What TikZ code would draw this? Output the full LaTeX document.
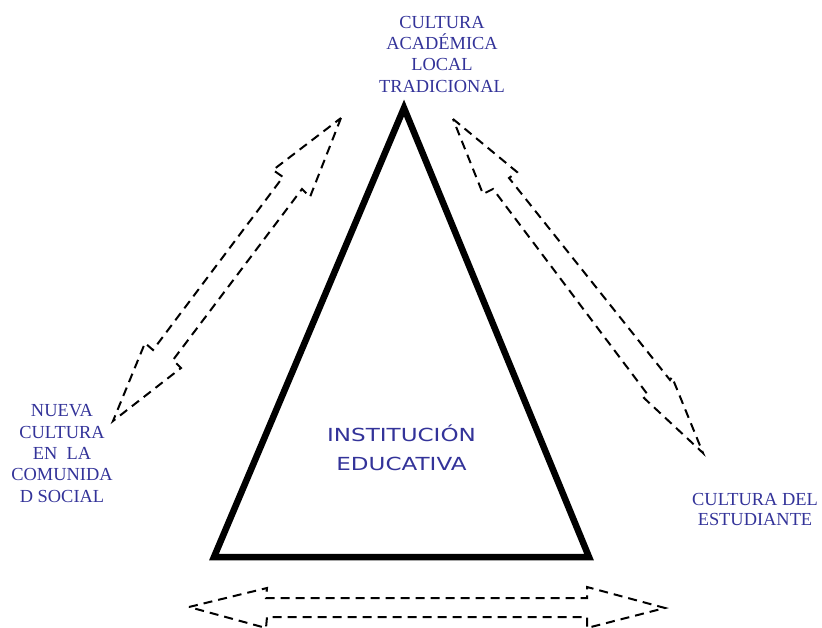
\documentclass[tikz,border=0pt]{standalone}
\usepackage{fontspec}
\setmainfont{Liberation Serif}
\newfontfamily\comicfont[FakeStretch=1.28]{DejaVu Sans}
\definecolor{labelblue}{RGB}{51,51,153}
\begin{document}
\begin{tikzpicture}[x=1pt,y=-1pt,
  lbl/.style={text=labelblue,align=center,inner sep=0pt,anchor=north,
    font=\fontsize{18.4}{21.2}\selectfont},
  dasharrow/.style={draw=black,line width=2pt,dash pattern=on 9pt off 6pt,line join=miter},
  tri/.style={draw=black,line width=6.5pt,line join=miter}]
\useasboundingbox (0,0) rectangle (822,628);
% triangle
\coordinate (apex) at (404,108);
\coordinate (bl) at (214,557);
\coordinate (br) at (589,557);
\draw[tri] (apex) -- (br) -- (bl) -- cycle;
% left double arrow
\draw[dasharrow] (341,118) -- (310,197) -- (302,189) -- (173,360) -- (181,368)
  -- (113,421) -- (145,343) -- (153,350) -- (283,177) -- (273,170) -- cycle;
% right double arrow
\draw[dasharrow] (453,119) -- (517,172) -- (509,178) -- (670,380) -- (672,377)
  -- (703,453) -- (644,398) -- (648,395) -- (493,189) -- (483,194) -- cycle;
% bottom double arrow
\draw[dasharrow] (189,607) -- (267,588) -- (266,598) -- (587,598) -- (587,587)
  -- (665,608) -- (587,628) -- (587,617) -- (267,617) -- (266,628) -- cycle;
% labels
\node[lbl] (top) at (442,16.2) {CULTURA\\ACADÉMICA\\LOCAL\\TRADICIONAL};
\node[lbl,font=\fontsize{18.4}{21.3}\selectfont] (left) at (62,404.6) {NUEVA\\CULTURA\\EN\ \ LA\\COMUNIDA\\D SOCIAL};
\node[lbl,font=\fontsize{18.4}{20}\selectfont] (right) at (755,492.8) {CULTURA DEL\\ESTUDIANTE};
\node[lbl,font=\comicfont\fontsize{18}{28.3}\selectfont] (center) at (401.5,425) {INSTITUCIÓN\\EDUCATIVA};
\end{tikzpicture}
\end{document}
